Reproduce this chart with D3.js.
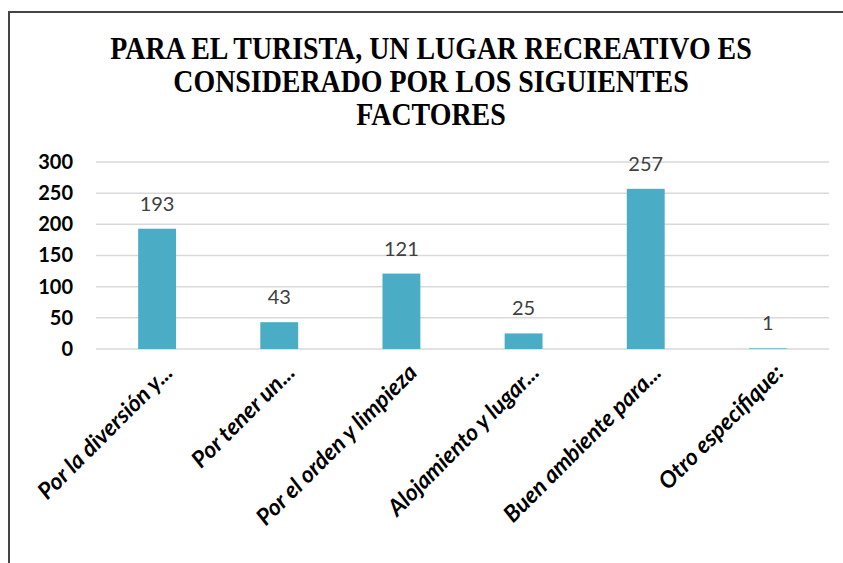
<!DOCTYPE html>
<html lang="en">
<head>
    <meta charset="UTF-8">
    <title>Factores lugar recreativo</title>
    <style>
        body { margin: 0; background: #fff; }
    </style>
</head>
<body>
</body>
<script src="https://cdn.jsdelivr.net/npm/d3@7"></script>
<script>
    // data
    var categories = ["Por la diversión y...", "Por tener un...", "Por el orden y limpieza",
        "Alojamiento y lugar...", "Buen ambiente para...", "Otro especifique:"];
    var values = [193, 43, 121, 25, 257, 1];
    var yTicks = [0, 50, 100, 150, 200, 250, 300];
    var titleLines = ["PARA EL TURISTA, UN LUGAR RECREATIVO ES",
        "CONSIDERADO POR LOS SIGUIENTES", "FACTORES"];

    var W = 843, H = 563;
    var plotLeft = 96, plotRight = 829, plotTop = 162, plotBottom = 349;

    var svg = d3.select("body").append("svg")
            .attr("width", W)
            .attr("height", H);

    // chart frame
    svg.append("path")
            .attr("d", "M 9,563 L 9,12 L 843,12")
            .style("fill", "none")
            .style("stroke", "#444")
            .style("stroke-width", 2);

    // title (Times, condensed)
    svg.append("text")
            .attr("text-anchor", "middle")
            .attr("transform", "translate(431,0) scale(0.9,1)")
            .style("font-family", "'Liberation Serif', 'Times New Roman', serif")
            .style("font-weight", "bold")
            .style("font-size", "31px")
            .style("fill", "#000")
            .selectAll("tspan")
            .data(titleLines)
            .enter().append("tspan")
            .attr("x", 0)
            .attr("y", function(d, i) { return 59 + i * 33; })
            .text(function(d) { return d; });

    var x = d3.scaleBand()
            .domain(categories)
            .range([plotLeft, plotRight])
            .paddingInner(0.69)
            .paddingOuter(0.345);

    var y = d3.scaleLinear()
            .domain([0, 300])
            .range([plotBottom, plotTop]);

    // gridlines
    svg.append("g")
            .selectAll("line")
            .data(yTicks)
            .enter().append("line")
            .attr("x1", plotLeft)
            .attr("x2", plotRight)
            .attr("y1", function(d) { return y(d); })
            .attr("y2", function(d) { return y(d); })
            .style("stroke", "#d9d9d9")
            .style("stroke-width", 1.5);

    // y axis labels
    var yAxis = d3.axisLeft(y).tickValues(yTicks).tickSize(0).tickPadding(0);
    svg.append("g")
            .attr("transform", "translate(73,0)")
            .call(yAxis)
            .call(function(g) { g.select(".domain").remove(); })
            .selectAll("text")
            .style("font-family", "Lato, 'Open Sans', sans-serif")
            .style("font-weight", "bold")
            .style("font-size", "20px")
            .style("fill", "#000");

    // bars
    svg.append("g")
            .selectAll("rect")
            .data(values)
            .enter().append("rect")
            .attr("x", function(d, i) { return x(categories[i]); })
            .attr("y", function(d) { return y(d); })
            .attr("width", x.bandwidth())
            .attr("height", function(d) { return plotBottom - y(d); })
            .style("fill", "#4BACC6");

    // value labels
    svg.append("g")
            .selectAll("text")
            .data(values)
            .enter().append("text")
            .attr("x", function(d, i) { return x(categories[i]) + x.bandwidth() / 2; })
            .attr("y", function(d) { return y(d) - 18; })
            .attr("text-anchor", "middle")
            .style("font-family", "Lato, 'Open Sans', sans-serif")
            .style("font-size", "20px")
            .style("fill", "#404040")
            .text(function(d) { return d; });

    // x axis labels, rotated
    var xAxis = d3.axisBottom(x).tickSize(0).tickPadding(0);
    svg.append("g")
            .attr("transform", "translate(0," + plotBottom + ")")
            .call(xAxis)
            .call(function(g) { g.select(".domain").remove(); })
            .selectAll("text")
            .attr("text-anchor", "end")
            .attr("dy", null)
            .attr("y", 0)
            .attr("transform", "translate(17,25) rotate(-45)")
            .style("font-family", "Lato, 'Open Sans', sans-serif")
            .style("font-weight", "bold")
            .style("font-style", "italic")
            .style("font-size", "23px")
            .style("fill", "#000");
</script>
</html>
